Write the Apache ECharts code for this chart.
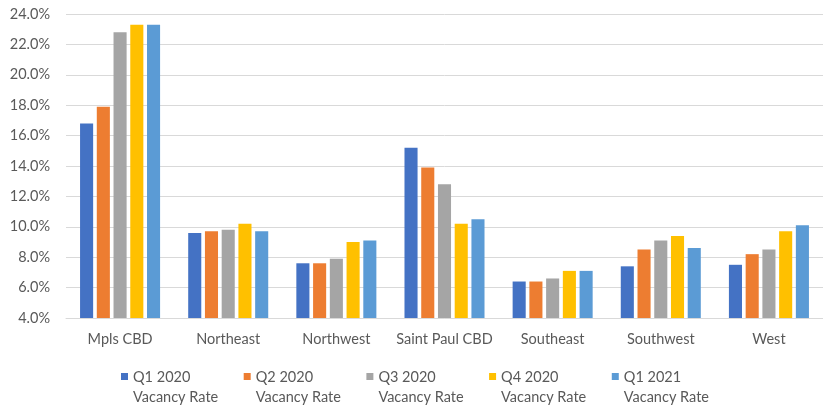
<!DOCTYPE html>
<html>
<head>
<meta charset="utf-8">
<script src="https://cdn.jsdelivr.net/npm/echarts@6/dist/echarts.min.js"></script>
<style>
  html, body { margin: 0; padding: 0; background: #fff; }
  #chart { width: 823px; height: 406px; }
</style>
</head>
<body>
<div id="chart"></div>
<script>
// submarkets on the x axis
const categories = ['Mpls CBD', 'Northeast', 'Northwest', 'Saint Paul CBD', 'Southeast', 'Southwest', 'West'];

// vacancy rate (%) per quarter
const q1_2020 = [16.8, 9.6, 7.6, 15.2, 6.4, 7.4, 7.5];
const q2_2020 = [17.9, 9.7, 7.6, 13.9, 6.4, 8.5, 8.2];
const q3_2020 = [22.8, 9.8, 7.9, 12.8, 6.6, 9.1, 8.5];
const q4_2020 = [23.3, 10.2, 9.0, 10.2, 7.1, 9.4, 9.7];
const q1_2021 = [23.3, 9.7, 9.1, 10.5, 7.1, 8.6, 10.1];

const seriesNames = ['Q1 2020\nVacancy Rate', 'Q2 2020\nVacancy Rate', 'Q3 2020\nVacancy Rate', 'Q4 2020\nVacancy Rate', 'Q1 2021\nVacancy Rate'];
const seriesData = [q1_2020, q2_2020, q3_2020, q4_2020, q1_2021];
const colors = ['#4472C4', '#ED7D31', '#A5A5A5', '#FFC000', '#5B9BD5'];

const chart = echarts.init(document.getElementById('chart'));

const font = 'Lato, "Noto Sans", sans-serif';
const textColor = '#595959';

chart.setOption({
  animation: false,
  color: colors,
  grid: {
    left: 66,
    right: -11,
    top: 14,
    bottom: 88,
  },
  legend: {
    bottom: -6,
    left: 116,
    itemGap: 25.5,
    itemWidth: 7,
    itemHeight: 28,
    // square sits on the first text line
    icon: 'path://M0,0h7v7h-7z M0,28h0.01v0.01h-0.01z',
    textStyle: { color: textColor, fontFamily: font, fontSize: 14.5, lineHeight: 20 },
    data: seriesNames,
  },
  xAxis: {
    type: 'category',
    data: categories,
    axisTick: { show: false },
    axisLine: { lineStyle: { color: '#d9d9d9' } },
    axisLabel: { color: textColor, fontFamily: font, fontSize: 14.5, margin: 14, interval: 0 },
  },
  yAxis: {
    type: 'value',
    min: 4,
    max: 24,
    interval: 2,
    axisLabel: {
      color: textColor,
      fontFamily: font,
      fontSize: 14.5,
      margin: 16,
      formatter: v => v.toFixed(1) + '%',
    },
    splitLine: { lineStyle: { color: '#d9d9d9' } },
  },
  series: seriesData.map((d, i) => ({
    name: seriesNames[i],
    type: 'bar',
    data: d,
    barGap: '28%',
    barCategoryGap: '26%',
  })),
});
</script>
</body>
</html>
